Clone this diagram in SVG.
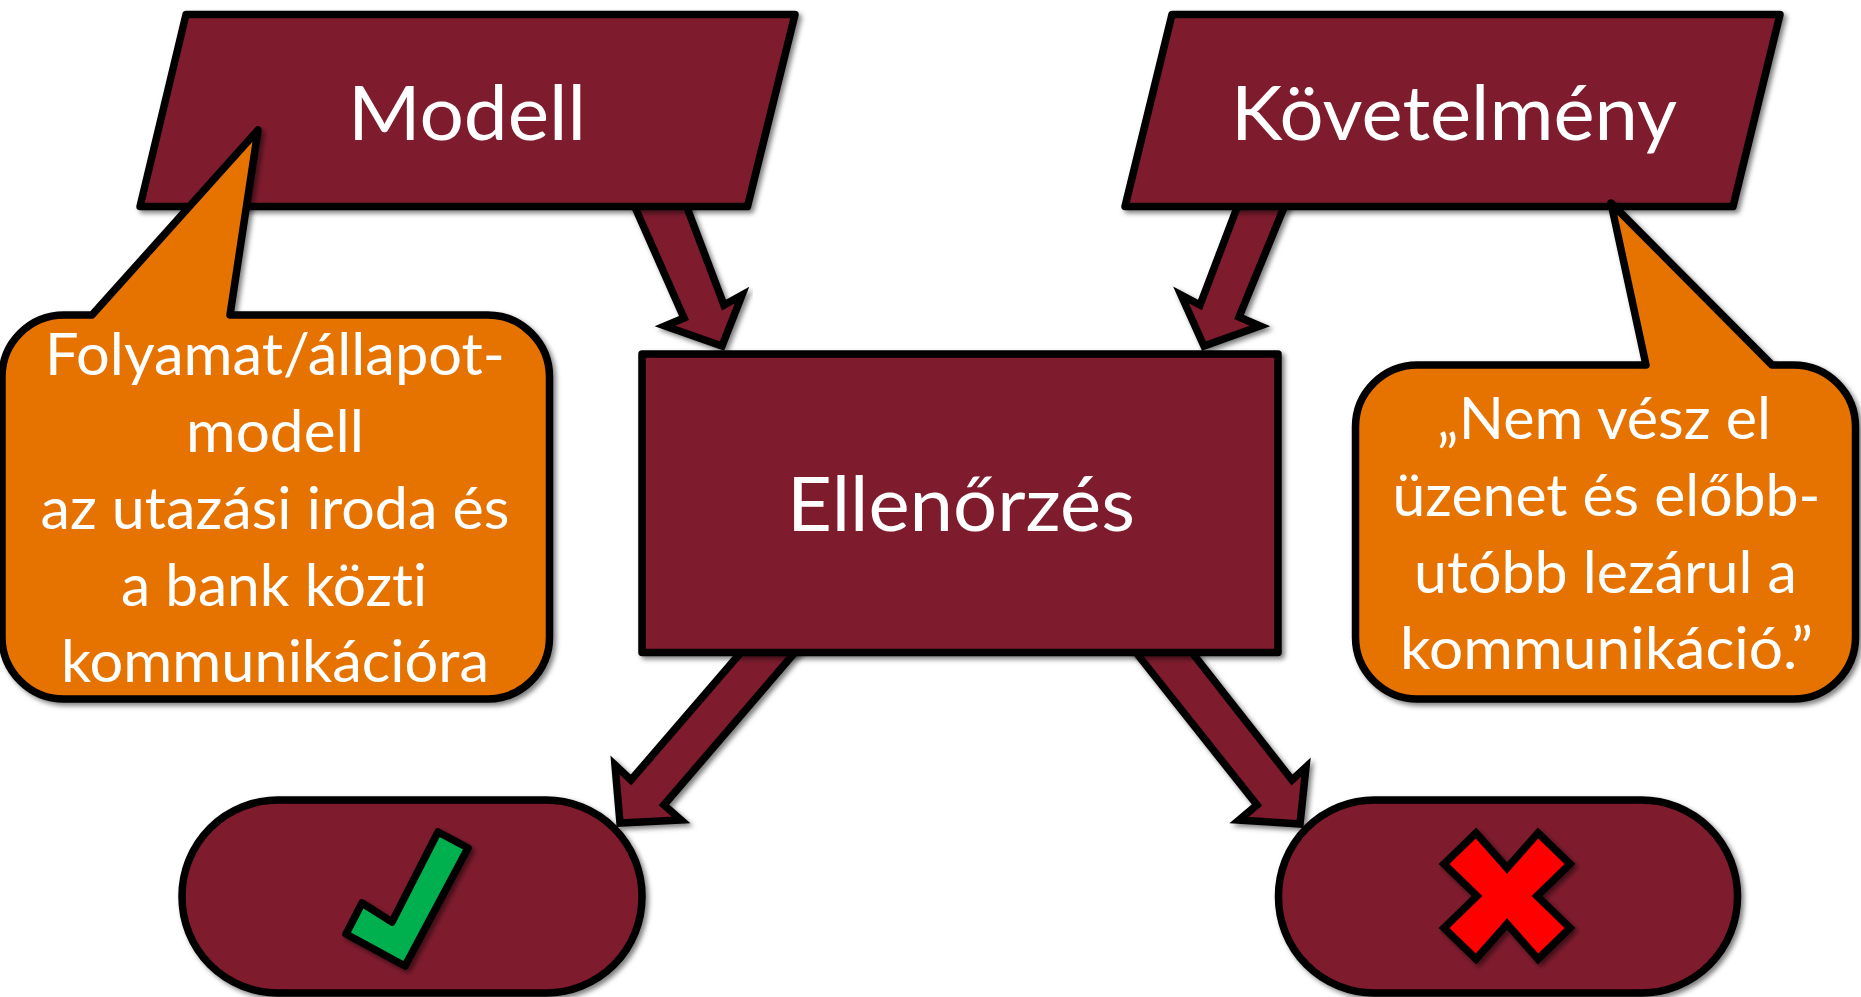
<svg xmlns="http://www.w3.org/2000/svg" width="1861" height="997" viewBox="0 0 1861 997">
<style>
.s{stroke:#000;stroke-width:7.5;stroke-linejoin:round;filter:url(#sh)}
.a{stroke:#000;stroke-width:7.5;stroke-linejoin:miter;stroke-miterlimit:10;fill:#7e1a2e;filter:url(#sh)}
.m{fill:#7e1a2e}
.o{fill:#e67300}
text{font-family:Lato,"Open Sans","Liberation Sans",sans-serif;fill:#fff;text-anchor:middle;font-variant-ligatures:none}
.t{font-size:76px}
.c{font-size:58px}
</style>
<defs>
<filter id="sh" x="-10%" y="-10%" width="120%" height="120%"><feDropShadow dx="3" dy="3" stdDeviation="2.5" flood-color="#000" flood-opacity="0.5"/></filter>
</defs>
<g id="connectors">
<polygon class="a" points="634,205 684,318 665,326 722,346 742,295 724,305 686,205"/>
<polygon class="a" points="1238,205 1200,305 1181,295 1204,346 1260,326 1239,317 1285,205"/>
<polygon class="a" points="743,650 631,780 615,765 620,823 681,820 664,805 797,650"/>
<polygon class="a" points="1134,650 1257,805 1239,820 1300,824 1306,767 1292,780 1190,650"/>
</g>
<g id="modell"><polygon class="s m" points="186,14.500 795,14.500 747.500,206.500 140,206.500"/><text class="t" x="467" y="139.500" textLength="238" lengthAdjust="spacingAndGlyphs">Modell</text></g>
<g id="kovetelmeny"><polygon class="s m" points="1172,14.500 1780,14.500 1733,206.500 1125,206.500"/><text class="t" x="1454" y="139.500" textLength="446" lengthAdjust="spacingAndGlyphs">Követelmény</text></g>
<g id="ellenorzes"><rect class="s m" x="642" y="354" width="636" height="298.500"/><text class="t" x="961" y="531" textLength="348" lengthAdjust="spacingAndGlyphs">Ellenőrzés</text></g>
<g id="callout-left"><path class="s o" d="M64,315H92L258,130L230,315H487A62,62 0 0 1 549.500,377V637A62,62 0 0 1 487,699H64A62,62 0 0 1 2,637V377A62,62 0 0 1 64,315Z"/>
<text class="c" x="275" y="375" textLength="460" lengthAdjust="spacingAndGlyphs">Folyamat/állapot-</text>
<text class="c" x="275" y="452" textLength="178" lengthAdjust="spacingAndGlyphs">modell</text>
<text class="c" x="275" y="529" textLength="469" lengthAdjust="spacingAndGlyphs">az utazási iroda és</text>
<text class="c" x="274" y="606" textLength="306" lengthAdjust="spacingAndGlyphs">a bank közti</text>
<text class="c" x="275" y="682" textLength="428" lengthAdjust="spacingAndGlyphs">kommunikációra</text></g>
<g id="callout-right"><path class="s o" d="M1417.500,365H1646L1611,203L1772,365H1793.500A62,62 0 0 1 1855.500,427V637A62,62 0 0 1 1793.500,699H1417.500A62,62 0 0 1 1355.500,637V427A62,62 0 0 1 1417.500,365Z"/>
<text class="c" x="1604" y="439" textLength="334" lengthAdjust="spacingAndGlyphs">„Nem vész el</text>
<text class="c" x="1606.500" y="516" textLength="428" lengthAdjust="spacingAndGlyphs">üzenet és előbb-</text>
<text class="c" x="1605.500" y="593" textLength="383" lengthAdjust="spacingAndGlyphs">utóbb lezárul a</text>
<text class="c" x="1606.500" y="669" textLength="413" lengthAdjust="spacingAndGlyphs">kommunikáció.”</text></g>
<g id="pill-ok"><rect class="s m" x="182" y="800" width="460" height="193" rx="96" ry="96"/><polygon class="s" fill="#00b050" points="438,832 468,848 405,966 346,934 362,903 392,922"/></g>
<g id="pill-fail"><rect class="s m" x="1278.500" y="800" width="459" height="193" rx="96" ry="96"/><polygon class="a" style="fill:#f00" points="1476,833 1507,868 1538,833 1570,864 1537,896 1570,928 1538,959 1507,924 1476,959 1444,928 1477,896 1444,864"/></g>
</svg>
